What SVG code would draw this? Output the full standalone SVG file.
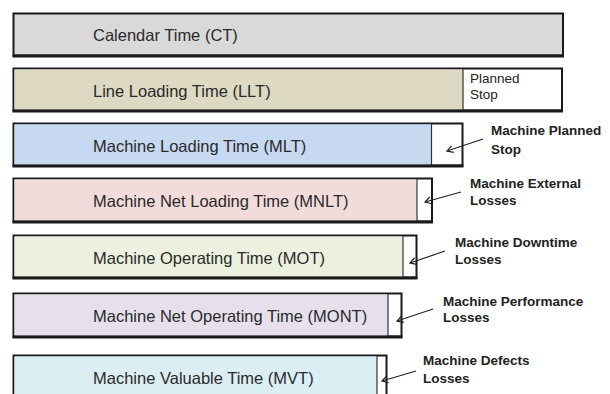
<svg xmlns="http://www.w3.org/2000/svg" width="610" height="394" viewBox="0 0 610 394">
<style>
.bar{stroke:#1a1a1a;stroke-width:2}
.base{stroke:#1a1a1a;stroke-width:3}
.div{stroke:#333;stroke-width:1.2}
.lbl{font-family:"Liberation Sans",Arial,sans-serif;font-size:16.5px;fill:#2a2a2a}
.side{font-family:"Liberation Sans",Arial,sans-serif;font-size:13.5px;font-weight:bold;fill:#222}
.plain{font-family:"Liberation Sans",Arial,sans-serif;font-size:13.5px;fill:#222}
.conn{fill:none;stroke:#222;stroke-width:1.2}
</style>
<defs>
<marker id="ah" viewBox="-8 -5 9 10" markerWidth="9" markerHeight="10" refX="0" refY="0" orient="auto" markerUnits="userSpaceOnUse">
<path d="M-6,-3.5 L0,0 L-6,3.5" fill="none" stroke="#222" stroke-width="1.2"/>
</marker>
</defs>
<rect width="610" height="394" fill="#fff"/>

<g id="ct">
<rect class="bar" x="13.5" y="13.5" width="549.5" height="42" fill="#d9d9d9"/>
<line class="base" x1="12.5" y1="56" x2="564" y2="56"/>
<text class="lbl" x="93" y="41">Calendar Time (CT)</text>
</g>

<g id="llt">
<rect class="bar" x="13.5" y="68.5" width="548.5" height="42" fill="#ffffff"/>
<rect x="14.5" y="69.5" width="448.5" height="40" fill="#ddd9c3"/>
<line class="div" x1="463" y1="69" x2="463" y2="110"/>
<line class="base" x1="12.5" y1="111" x2="563" y2="111"/>
<text class="lbl" x="93" y="97">Line Loading Time (LLT)</text>
<text class="plain" x="470" y="83">Planned</text>
<text class="plain" x="470" y="99">Stop</text>
</g>

<g id="mlt">
<rect class="bar" x="13.5" y="123.5" width="449" height="42" fill="#ffffff"/>
<rect x="14.5" y="124.5" width="417" height="40" fill="#c6d9f1"/>
<line class="div" x1="431.5" y1="124" x2="431.5" y2="165"/>
<line class="base" x1="12.5" y1="166" x2="463.5" y2="166"/>
<text class="lbl" x="93" y="152">Machine Loading Time (MLT)</text>
<text class="side" x="491" y="135">Machine Planned</text>
<text class="side" x="491" y="154">Stop</text>
</g>

<g id="mnlt">
<rect class="bar" x="13.5" y="178.5" width="418.5" height="43" fill="#ffffff"/>
<rect x="14.5" y="179.5" width="402.5" height="41" fill="#f2dcdb"/>
<line class="div" x1="417" y1="179" x2="417" y2="221"/>
<line class="base" x1="12.5" y1="222" x2="433" y2="222"/>
<text class="lbl" x="93" y="207">Machine Net Loading Time (MNLT)</text>
<text class="side" x="470" y="188">Machine External</text>
<text class="side" x="470" y="205">Losses</text>
</g>

<g id="mot">
<rect class="bar" x="13.5" y="235.5" width="403" height="42" fill="#ffffff"/>
<rect x="14.5" y="236.5" width="388.5" height="40" fill="#ebf1de"/>
<line class="div" x1="403" y1="236" x2="403" y2="277"/>
<line class="base" x1="12.5" y1="278" x2="417.5" y2="278"/>
<text class="lbl" x="93" y="264">Machine Operating Time (MOT)</text>
<text class="side" x="455" y="247">Machine Downtime</text>
<text class="side" x="455" y="264">Losses</text>
</g>

<g id="mont">
<rect class="bar" x="13.5" y="293.5" width="388" height="43" fill="#ffffff"/>
<rect x="14.5" y="294.5" width="373.5" height="41" fill="#e5e0ec"/>
<line class="div" x1="388" y1="294" x2="388" y2="336"/>
<line class="base" x1="12.5" y1="337" x2="402.5" y2="337"/>
<text class="lbl" x="93" y="322">Machine Net Operating Time (MONT)</text>
<text class="side" x="443" y="306">Machine Performance</text>
<text class="side" x="443" y="322">Losses</text>
</g>

<g id="mvt">
<rect class="bar" x="13.5" y="355.5" width="373" height="50" fill="#ffffff"/>
<rect x="14.5" y="356.5" width="362.5" height="48" fill="#dbeef4"/>
<line class="div" x1="377" y1="356" x2="377" y2="394"/>
<text class="lbl" x="93" y="384">Machine Valuable Time (MVT)</text>
<text class="side" x="423" y="365">Machine Defects</text>
<text class="side" x="423" y="383">Losses</text>
</g>

<g id="connectors">
<path class="conn" d="M483,139 L447,151" marker-end="url(#ah)"/>
<path class="conn" d="M461,192 L425,202" marker-end="url(#ah)"/>
<path class="conn" d="M445,251 L410,263" marker-end="url(#ah)"/>
<path class="conn" d="M433,309 L397,321" marker-end="url(#ah)"/>
<path class="conn" d="M416,371 L382,381" marker-end="url(#ah)"/>
</g>
</svg>
